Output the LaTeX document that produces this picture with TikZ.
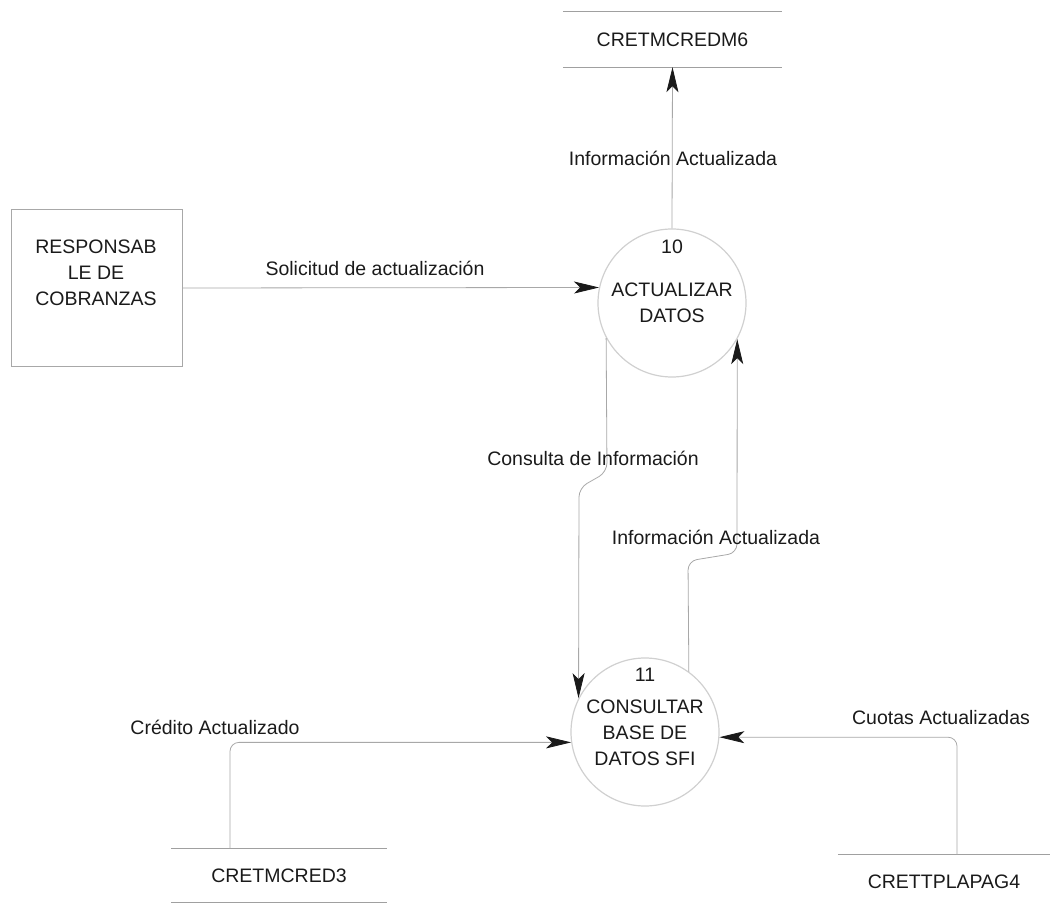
\documentclass[tikz,border=0pt]{standalone}
\usepackage{fontspec}
\setmainfont{Liberation Sans}
\usetikzlibrary{arrows.meta}
\definecolor{ln}{HTML}{A8A8A8}
\definecolor{circ}{HTML}{D0D0D0}
\definecolor{stl}{HTML}{A0A0A0}
\definecolor{txt}{HTML}{1A1A1A}
\begin{document}
\begin{tikzpicture}[x=1pt,y=1pt,
  every node/.style={text=txt, font=\fontsize{19.5}{26}\selectfont, inner sep=0pt, align=center},
  proc/.style={circle, draw=circ, line width=1.2pt, minimum size=148pt},
  ent/.style={rectangle, draw=ln, line width=1pt, minimum width=171pt, minimum height=157pt},
  storebox/.style={rectangle, minimum height=54pt},
  storeline/.style={draw=stl, line width=1pt},
  flow/.style={draw=ln, line width=0.8pt, rounded corners=9pt, -{Stealth[length=25pt,width=12pt,inset=6pt,color=txt]}},
]
\useasboundingbox (0,0) rectangle (1050,906);

% processes
\node[proc] (p10) at (672,603) {};
\node (p10n) at (672,659) {10};
\node (p10t) at (672,603.5) {ACTUALIZAR\\DATOS};
\node[proc] (p11) at (645,174) {};
\node (p11n) at (645,231) {11};
\node (p11t) at (645,173) {CONSULTAR\\BASE DE\\DATOS SFI};

% external entity
\node[ent] (ext) at (96.5,618) {};
\node (extt) at (96,633) {RESPONSAB\\LE DE\\COBRANZAS};

% data stores
\node[storebox, minimum width=219pt, minimum height=55pt] (s6) at (672.5,866.5) {CRETMCREDM6};
\draw[storeline] (s6.north west) -- (s6.north east) (s6.south west) -- (s6.south east);
\node[storebox, minimum width=215pt, minimum height=53pt] (s3) at (279,30.5) {CRETMCRED3};
\draw[storeline] (s3.north west) -- (s3.north east) (s3.south west) -- (s3.south east);
\node[storebox, minimum width=212pt] (s4) at (944,24) {CRETTPLAPAG4};
\draw[storeline] (s4.north west) -- (s4.north east);

\coordinate (c3) at (230,0);
\coordinate (c4) at (957,0);

% flows
\draw[flow] (p10.north) -- (s6.south);
\draw[flow] (ext.east) -- (p10.168.3);
\draw[flow] (p10.208.6) -- (607,434) -- (579,418) -- (p11.153.1);
\draw[flow] (p11.54.5) -- (688,345) -- (737,353) -- (p10.331.4);
\draw[flow] (s3.north -| c3) |- (p11.188.5);
\draw[flow] (s4.north -| c4) |- (p11.356.1);

% labels
\node (l1) at (673,748) {Información Actualizada};
\node (l2) at (375,638) {Solicitud de actualización};
\node (l3) at (593,448) {Consulta de Información};
\node (l4) at (716,369) {Información Actualizada};
\node (l5) at (215,179) {Crédito Actualizado};
\node (l6) at (941,188) {Cuotas Actualizadas};
\end{tikzpicture}
\end{document}
